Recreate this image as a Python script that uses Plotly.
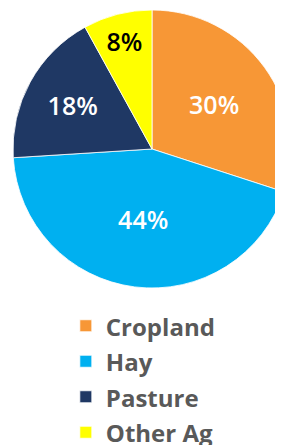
import plotly.graph_objects as go

categories = ["Cropland", "Hay", "Pasture", "Other Ag"]
shares = [30, 44, 18, 8]
slice_colors = ["#F79736", "#00B0F0", "#1F3864", "#FFFF00"]
text_colors = ["#FFFFFF", "#FFFFFF", "#FFFFFF", "#000000"]

legend_labels = [f"<span style='font-size:24px'>{c}</span>" for c in categories]

fig = go.Figure(go.Pie(
    labels=legend_labels,
    values=shares,
    sort=False,
    direction="clockwise",
    rotation=0,
    marker=dict(colors=slice_colors, line=dict(color="#FFFFFF", width=0.8)),
    texttemplate="%{percent:.0%}",
    textposition="inside",
    insidetextorientation="horizontal",
    textfont=dict(family="Open Sans", size=25, color=text_colors, weight=600),
    hoverinfo="label+percent",
))

fig.update_layout(
    width=283, height=460,
    margin=dict(l=5, r=0, t=2, b=180),
    paper_bgcolor="#FFFFFF",
    showlegend=True,
    legend=dict(
        x=0.19, xanchor="left",
        y=-0.054, yanchor="top",
        font=dict(family="Open Sans", size=25, color="#595959", weight="bold"),
        bgcolor="rgba(0,0,0,0)",
        traceorder="normal",
    ),
)

fig.write_html("out.html")
